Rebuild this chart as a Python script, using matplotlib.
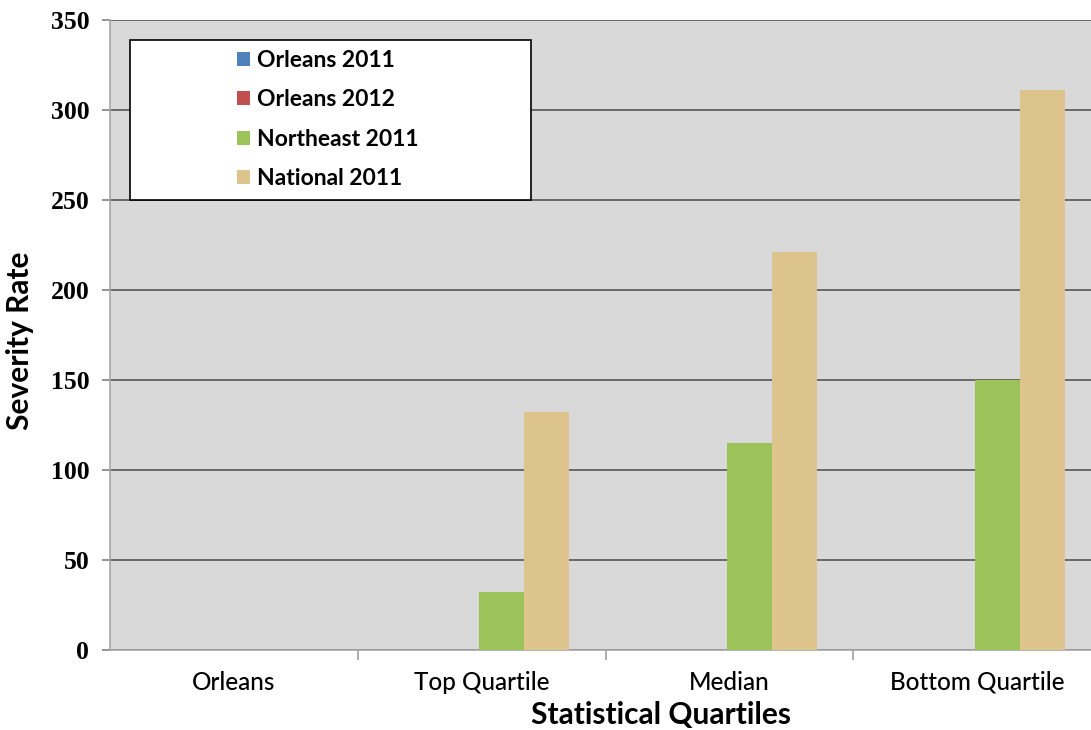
import matplotlib
matplotlib.use("Agg")
import matplotlib.pyplot as plt
from matplotlib.patches import Rectangle
import numpy as np

categories = ["Orleans", "Top Quartile", "Median", "Bottom Quartile"]
series_names = ["Orleans 2011", "Orleans 2012", "Northeast 2011", "National 2011"]
orleans_2011 = [0, 0, 0, 0]
orleans_2012 = [0, 0, 0, 0]
northeast_2011 = [0, 32, 115, 150]
national_2011 = [0, 132, 221, 311]
y_ticks = [0, 50, 100, 150, 200, 250, 300, 350]

colors = ["#4f81bd", "#c0504d", "#9bc35a", "#dcc48c"]
W, H = 1091, 730
fig = plt.figure(figsize=(W / 100, H / 100), dpi=100)
fig.patch.set_facecolor("white")

left, right, top, bottom = 110, 1101, 20, 650
ax = fig.add_axes([left / W, 1 - bottom / H, (right - left) / W, (bottom - top) / H])
ax.set_facecolor("#d9d9d9")

x = np.arange(len(categories))
bw = 0.182
all_series = [orleans_2011, orleans_2012, northeast_2011, national_2011]
handles = []
for i, (vals, name, c) in enumerate(zip(all_series, series_names, colors)):
    h = ax.bar(x + (i - 1.5) * bw - 0.01, vals, width=bw, color=c, label=name, zorder=3)
    handles.append(h)

ax.set_xlim(-0.5, 3.5)
ax.set_ylim(0, 350)
ax.set_yticks(y_ticks)
ax.set_yticklabels([str(v) for v in y_ticks], fontfamily="Liberation Serif",
                   fontweight="bold", fontsize=18.5)
ax.yaxis.grid(True, color="#606060", lw=1.3, zorder=1)
ax.set_axisbelow(True)

ax.set_xticks(x)
ax.set_xticklabels(categories, fontfamily="Lato", fontsize=17.5, fontweight="medium")
ax.set_xticks([0.5, 1.5, 2.5], minor=True)
ax.tick_params(axis="x", which="major", length=0, pad=15)
ax.tick_params(axis="x", which="minor", length=7, color="#a0a0a0", width=1.2)
ax.tick_params(axis="y", length=6, color="#808080", width=1.2, pad=9)

for s in ["top", "right"]:
    ax.spines[s].set_visible(False)
for s in ["left", "bottom"]:
    ax.spines[s].set_color("#a6a6a6")
    ax.spines[s].set_linewidth(1.2)

# Legend box
bx0, bx1, by0, by1 = 130, 531, 40, 200
ax.add_patch(Rectangle((bx0 / W, 1 - by1 / H), (bx1 - bx0) / W, (by1 - by0) / H,
                       transform=fig.transFigure, facecolor="white",
                       edgecolor="black", lw=1.2, zorder=5, clip_on=False))
leg = ax.legend(handles=handles, labels=series_names, frameon=False,
                loc="upper left", bbox_to_anchor=(221 / W, 1 - 34 / H),
                bbox_transform=fig.transFigure,
                prop={"family": "Lato", "weight": "bold", "size": 16.5},
                handlelength=0.55, handleheight=0.55, handletextpad=0.3,
                labelspacing=0.8, borderpad=0.2)
leg.set_zorder(6)

fig.text(20 / W, 1 - 341 / H, "Severity Rate", rotation=90, ha="center", va="center",
         fontfamily="Lato", fontweight="bold", fontsize=21.5)
fig.text(661 / W, 1 - 715 / H, "Statistical Quartiles", ha="center", va="center",
         fontfamily="Lato", fontweight="bold", fontsize=21.5)

fig.savefig("out.png", dpi=100)
